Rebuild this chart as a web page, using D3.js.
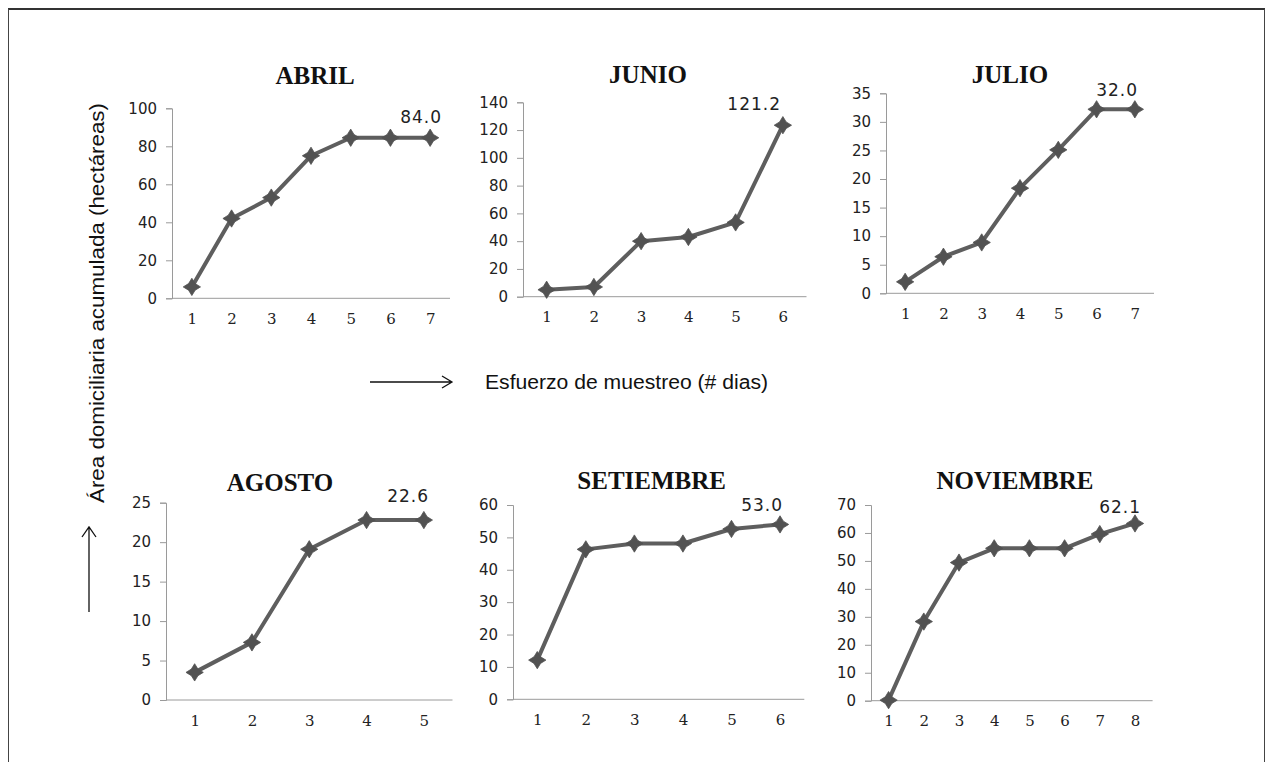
<!DOCTYPE html>
<html>
<head>
<meta charset="utf-8">
<script src="https://cdn.jsdelivr.net/npm/d3@7"></script>
<style>
  html, body { margin: 0; padding: 0; background: #fff; }
  svg { display: block; }
</style>
</head>
<body>
<svg id="chart" width="1272" height="762"></svg>
<script>
// ---------- DATA ----------
const months = ["ABRIL", "JUNIO", "JULIO", "AGOSTO", "SETIEMBRE", "NOVIEMBRE"];
const abril     = [6, 42, 53, 75, 84.5, 84.5, 84.5];
const junio     = [5, 7, 40, 43, 53.5, 123.5];
const julio     = [2.0, 6.4, 8.9, 18.4, 25.1, 32.2, 32.2];
const agosto    = [3.5, 7.3, 19.1, 22.8, 22.8];
const setiembre = [12.1, 46.3, 48.1, 48.1, 52.6, 54.0];
const noviembre = [0.2, 28.3, 49.4, 54.5, 54.5, 54.5, 59.6, 63.4];
const seriesValues = [abril, junio, julio, agosto, setiembre, noviembre];
const yMaxes  = [100, 140, 35, 25, 60, 70];
const yStepsY = [20, 20, 5, 5, 10, 10];
const endLabels = ["84.0", "121.2", "32.0", "22.6", "53.0", "62.1"];
const yAxisTitle = "Área domiciliaria acumulada (hectáreas)";
const xAxisTitle = "Esfuerzo de muestreo (# dias)";

// ---------- LAYOUT (pixels) ----------
const layout = [
  { left: 172, right: 450,   top: 108.3, bottom: 298.3, tx: 315,  ty: 84,    lx: 442,  ly: 123 },
  { left: 523, right: 806.5, top: 102.3, bottom: 296.7, tx: 648,  ty: 83,    lx: 781,  ly: 110 },
  { left: 886, right: 1154,  top: 93.3,  bottom: 293.3, tx: 1010, ty: 83,    lx: 1138, ly: 96 },
  { left: 166, right: 452.5, top: 502.7, bottom: 700,   tx: 280,  ty: 490.7, lx: 429,  ly: 501.7 },
  { left: 513, right: 804.3, top: 505,   bottom: 699.3, tx: 651.7,ty: 489.3, lx: 783,  ly: 510.7 },
  { left: 871, right: 1152.6,top: 505,   bottom: 700.7, tx: 1015, ty: 489.3, lx: 1141, ly: 513 }
];

const svg = d3.select("#chart");
const lineColor = "#5e5e5e";
const markerColor = "#525252";
const axisColor = "#9a9a9a";

// frame
svg.append("line").attr("x1", 8).attr("x2", 1265).attr("y1", 9).attr("y2", 9)
  .attr("stroke", "#333").attr("stroke-width", 2);
svg.append("line").attr("x1", 8.5).attr("x2", 8.5).attr("y1", 9).attr("y2", 762)
  .attr("stroke", "#444").attr("stroke-width", 1);
svg.append("line").attr("x1", 1264.5).attr("x2", 1264.5).attr("y1", 9).attr("y2", 762)
  .attr("stroke", "#444").attr("stroke-width", 1);

// four-point star marker
const star4 = {
  draw(ctx, size) {
    const r = Math.sqrt(size) / 2, w = r * 0.38;
    ctx.moveTo(0, -r);
    ctx.lineTo(w, -w);
    ctx.lineTo(r, 0);
    ctx.lineTo(w, w);
    ctx.lineTo(0, r);
    ctx.lineTo(-w, w);
    ctx.lineTo(-r, 0);
    ctx.lineTo(-w, -w);
    ctx.closePath();
  }
};
const markerPath = d3.symbol().type(star4).size(300)();

months.forEach((m, i) => {
  const L = layout[i];
  const vals = seriesValues[i];
  const cats = vals.map((_, j) => String(j + 1));
  const x = d3.scalePoint().domain(cats).range([L.left, L.right]).padding(0.5);
  const y = d3.scaleLinear().domain([0, yMaxes[i]]).range([L.bottom, L.top]);
  const g = svg.append("g");

  const yTicks = d3.range(0, yMaxes[i] + 0.001, yStepsY[i]);
  const yAxis = g.append("g").attr("transform", `translate(${L.left},0)`)
    .call(d3.axisLeft(y).tickValues(yTicks).tickSize(6).tickPadding(9).tickFormat(d3.format("d")));
  yAxis.select(".domain").attr("stroke", axisColor);
  yAxis.selectAll(".tick line").attr("stroke", axisColor);
  yAxis.selectAll("text").attr("font-family", "'DejaVu Sans', Verdana, sans-serif")
    .attr("font-size", 15).attr("fill", "#222");

  const xAxis = g.append("g").attr("transform", `translate(0,${L.bottom})`)
    .call(d3.axisBottom(x).tickSize(0).tickPadding(15));
  xAxis.select(".domain").attr("stroke", axisColor).attr("d", `M${L.left},0H${L.right}`);
  xAxis.selectAll("text").attr("font-family", "'DejaVu Serif', Cambria, serif")
    .attr("font-size", 15).attr("fill", "#222");

  const line = d3.line().x((d, j) => x(cats[j])).y(d => y(d));
  g.append("path").datum(vals).attr("d", line).attr("fill", "none")
    .attr("stroke", lineColor).attr("stroke-width", 4).attr("stroke-linejoin", "round");

  g.selectAll(".mk").data(vals).join("path").attr("class", "mk")
    .attr("d", markerPath)
    .attr("transform", (d, j) => `translate(${x(cats[j])},${y(d)})`)
    .attr("fill", markerColor).attr("stroke", markerColor).attr("stroke-width", 0.8);

  g.append("text").attr("x", L.tx).attr("y", L.ty).attr("text-anchor", "middle")
    .attr("font-family", "'Liberation Serif', 'Times New Roman', serif")
    .attr("font-weight", "bold").attr("font-size", 25).attr("fill", "#111").text(m);

  g.append("text").attr("x", L.lx).attr("y", L.ly).attr("text-anchor", "end")
    .attr("font-family", "'DejaVu Sans', Verdana, sans-serif")
    .attr("font-size", 17).attr("letter-spacing", 1).attr("fill", "#222").text(endLabels[i]);
});

// shared axis titles with arrows
const arrowStroke = "#111";
svg.append("text").attr("transform", "translate(104,303) rotate(-90)")
  .attr("text-anchor", "middle").attr("font-family", "'Liberation Sans', Arial, sans-serif")
  .attr("font-size", 20).attr("fill", "#111")
  .attr("textLength", 400).attr("lengthAdjust", "spacingAndGlyphs").text(yAxisTitle);
svg.append("path").attr("d", "M89,612V527M82,537L89,527L96,537")
  .attr("fill", "none").attr("stroke", arrowStroke).attr("stroke-width", 1.3);

svg.append("text").attr("x", 485).attr("y", 389)
  .attr("font-family", "'Liberation Sans', Arial, sans-serif")
  .attr("font-size", 20).attr("fill", "#111")
  .attr("textLength", 283).attr("lengthAdjust", "spacingAndGlyphs").text(xAxisTitle);
svg.append("path").attr("d", "M370,382H452M442,376L452,382L442,388")
  .attr("fill", "none").attr("stroke", arrowStroke).attr("stroke-width", 1.3);
</script>
</body>
</html>
